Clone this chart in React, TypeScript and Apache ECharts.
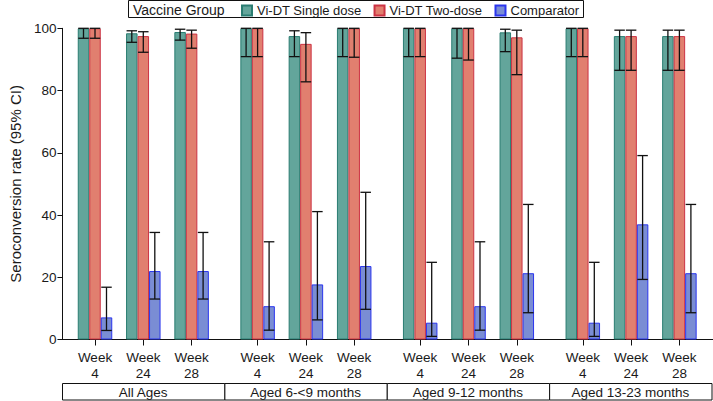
import React, { useEffect, useRef } from 'react';
import * as echarts from 'echarts';

const weeks = ['Week\n4', 'Week\n24', 'Week\n28'];
const ageGroups = ['All Ages', 'Aged 6-<9 months', 'Aged 9-12 months', 'Aged 13-23 months'];
const seriesNames = ['Vi-DT Single dose', 'Vi-DT Two-dose', 'Comparator'];
const legendTitle = 'Vaccine Group';
const yAxisName = 'Seroconversion rate (95% CI)';

// values per age group, per week
const singleDose = [[100, 98.4, 98.8], [100, 97.5, 100], [100, 100, 98.7], [100, 97.5, 97.5]];
const singleLow = [[96.8, 95.5, 96.2], [90.9, 90.9, 90.9], [90.9, 90.4, 92.5], [90.9, 86.5, 86.5]];
const singleHigh = [[100, 99.2, 99.7], [100, 99.2, 100], [100, 100, 99.7], [100, 99.4, 99.4]];

const twoDose = [[100, 97.5, 98.3], [100, 95.0, 100], [100, 100, 97.1], [100, 97.5, 97.5]];
const twoLow = [[96.8, 92.3, 93.6], [90.9, 82.8, 90.7], [90.9, 89.8, 85.1], [90.9, 86.5, 86.5]];
const twoHigh = [[100, 98.9, 99.4], [100, 98.6, 100], [100, 100, 99.4], [100, 99.4, 99.4]];

const comparator = [[7.1, 22.0, 22.0], [10.7, 17.7, 23.6], [5.4, 10.7, 21.3], [5.4, 37.0, 21.3]];
const compLow = [[2.9, 13.0, 13.0], [3.0, 6.3, 9.7], [1.0, 3.0, 8.6], [1.0, 19.3, 8.6]];
const compHigh = [[16.8, 34.4, 34.4], [31.4, 41.1, 47.3], [24.8, 31.4, 43.4], [24.8, 59.1, 43.4]];

const Y_MIN = 0;
const Y_MAX = 100;
const Y_INTERVAL = 20;

const COLORS = [
  { fill: '#63a59b', border: '#2a7d72' },
  { fill: '#e17f6f', border: '#cc3344' },
  { fill: '#7a8dd4', border: '#2a35ee' },
];

export default function App() {
  const ref = useRef<HTMLDivElement>(null);
  useEffect(() => {
    const chart = echarts.init(ref.current!, null, { renderer: 'svg' });
    const FONT = '"Liberation Sans", Arial, sans-serif';
    const TXT = '#1a1a1a';
    const W = 713;
    const PL = 62;
    const TOP = 28.3;
    const AXIS_Y = 339.5;
    const GW = 162.6;
    const BAND = 48.3;
    const BAR_W = 11.5;
    const BOX_W = (711.5 - PL) / 4;

    const values = [singleDose, twoDose, comparator];
    const lows = [singleLow, twoLow, compLow];
    const highs = [singleHigh, twoHigh, compHigh];

    const grids: any[] = [{ left: PL, top: TOP, width: W - PL, height: AXIS_Y - TOP }];
    const xAxes: any[] = [{
      gridIndex: 0, type: 'value', min: 0, max: 1,
      axisLine: { show: true, lineStyle: { color: '#111', width: 1 } },
      axisTick: { show: false }, axisLabel: { show: false }, splitLine: { show: false },
    }];
    const yAxes: any[] = [{
      gridIndex: 0, type: 'value', min: Y_MIN, max: Y_MAX, interval: Y_INTERVAL,
      name: yAxisName, nameLocation: 'middle', nameGap: 39,
      nameTextStyle: { fontSize: 15, color: TXT, fontFamily: FONT },
      axisLine: { show: true, lineStyle: { color: '#111', width: 1 } },
      axisTick: { show: true, length: 5, lineStyle: { color: '#111' } },
      axisLabel: { fontSize: 13.5, color: TXT, margin: 6, fontFamily: FONT },
      splitLine: { show: false },
    }];
    const series: any[] = [];
    const graphic: any[] = [];

    ageGroups.forEach((g, i) => {
      const center = PL + GW * (i + 0.5);
      grids.push({ left: center - 1.5 * BAND, top: TOP, width: 3 * BAND, height: AXIS_Y - TOP });
      xAxes.push({
        gridIndex: i + 1, type: 'category', data: weeks,
        axisLine: { show: false },
        axisTick: { show: true, alignWithLabel: true, length: 6, lineStyle: { color: '#111' } },
        axisLabel: { fontSize: 13.5, lineHeight: 16, color: TXT, margin: 10, fontFamily: FONT, interval: 0 },
      });
      yAxes.push({ gridIndex: i + 1, type: 'value', min: Y_MIN, max: Y_MAX, show: false });

      seriesNames.forEach((name, s) => {
        series.push({
          type: 'bar', name, xAxisIndex: i + 1, yAxisIndex: i + 1,
          barWidth: BAR_W, barGap: '0%',
          itemStyle: { color: COLORS[s].fill, borderColor: COLORS[s].border, borderWidth: 1 },
          data: values[s][i],
          z: 2,
        });
      });

      const errData: any[] = [];
      seriesNames.forEach((_, s) => {
        weeks.forEach((_, k) => {
          errData.push([k, lows[s][i][k], highs[s][i][k], s]);
        });
      });
      series.push({
        type: 'custom', name: 'ci', xAxisIndex: i + 1, yAxisIndex: i + 1, z: 5,
        encode: { x: 0, y: [1, 2] },
        data: errData,
        renderItem: (params: any, api: any) => {
          const k = api.value(0);
          const lo = api.value(1);
          const hi = api.value(2);
          const s = api.value(3);
          const pLo = api.coord([k, lo]);
          const pHi = api.coord([k, hi]);
          const x = pLo[0] + (s - 1) * BAR_W;
          const half = BAR_W / 2 - 0.5;
          const st = { stroke: '#111', lineWidth: 1.3 };
          return {
            type: 'group',
            children: [
              { type: 'line', shape: { x1: x, y1: pLo[1], x2: x, y2: pHi[1] }, style: st },
              { type: 'line', shape: { x1: x - half, y1: pLo[1], x2: x + half, y2: pLo[1] }, style: st },
              { type: 'line', shape: { x1: x - half, y1: pHi[1], x2: x + half, y2: pHi[1] }, style: st },
            ],
          };
        },
      });

      graphic.push({
        type: 'rect', z: 10,
        shape: { x: PL + BOX_W * i + 0.5, y: 383.5, width: BOX_W, height: 16.5 },
        style: { fill: '#fff', stroke: '#111', lineWidth: 1 },
      });
      graphic.push({
        type: 'text', z: 11,
        x: PL + BOX_W * (i + 0.5), y: 392,
        style: { text: g, fontSize: 13.5, fontFamily: FONT, fill: TXT, align: 'center', verticalAlign: 'middle' },
      });
    });

    graphic.push({
      type: 'rect', z: 10,
      shape: { x: 128.5, y: 0.5, width: 455, height: 17 },
      style: { fill: 'none', stroke: '#111', lineWidth: 1 },
    });
    graphic.push({
      type: 'text', z: 11, x: 133, y: 9.5,
      style: { text: legendTitle, fontSize: 14, fontFamily: FONT, fill: TXT, align: 'left', verticalAlign: 'middle' },
    });

    chart.setOption({
      animation: false,
      backgroundColor: '#fff',
      textStyle: { fontFamily: FONT },
      grid: grids,
      xAxis: xAxes,
      yAxis: yAxes,
      legend: {
        data: seriesNames, left: 241, top: 4, itemWidth: 10, itemHeight: 10, itemGap: 12,
        icon: 'rect', selectedMode: false, padding: 0,
        textStyle: { fontSize: 13, color: TXT, fontFamily: FONT },
      },
      series,
      graphic,
    });
    return () => chart.dispose();
  }, []);
  return (
    <div style={{ position: 'absolute', left: 0, top: 0, width: 713, height: 401 }}>
      <div ref={ref} style={{ width: 713, height: 401 }} />
    </div>
  );
}
